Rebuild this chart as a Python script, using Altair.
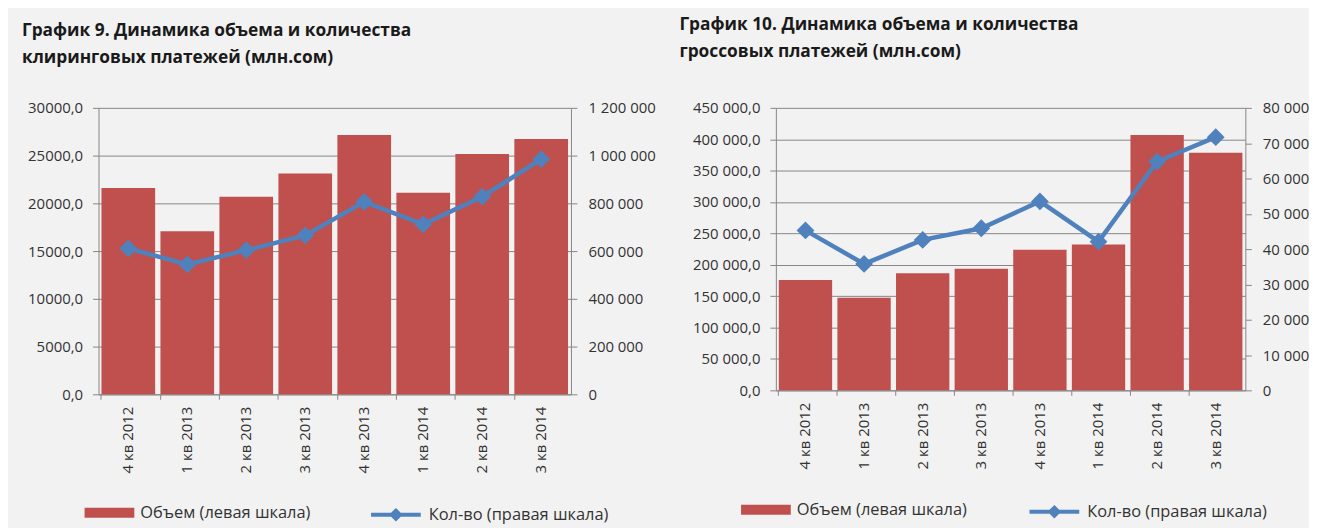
import altair as alt
import pandas as pd

quarters = ["4 кв 2012", "1 кв 2013", "2 кв 2013", "3 кв 2013",
            "4 кв 2013", "1 кв 2014", "2 кв 2014", "3 кв 2014"]

clearing_volume = [21620, 17070, 20680, 23130, 27160, 21100, 25160, 26740]
clearing_count = [611000, 544000, 604000, 666000, 806000, 712000, 828000, 985000]

gross_volume = [175900, 147700, 186400, 193700, 224000, 232300, 406700, 378500]
gross_count = [45300, 35800, 42600, 45900, 53500, 42100, 64800, 71700]

title9 = ["График 9. Динамика объема и количества", "клиринговых платежей (млн.сом)"]
title10 = ["График 10. Динамика объема и количества", "гроссовых платежей (млн.сом)"]

bar_label = "Объем (левая шкала)"
line_label = "Кол-во (правая шкала)"

left_ticks_9 = [0, 5000, 10000, 15000, 20000, 25000, 30000]
right_ticks_9 = [0, 200000, 400000, 600000, 800000, 1000000, 1200000]
left_ticks_10 = [0, 50000, 100000, 150000, 200000, 250000, 300000, 350000, 400000, 450000]
right_ticks_10 = [0, 10000, 20000, 30000, 40000, 50000, 60000, 70000, 80000]

BAR = "#c0504d"
LINE = "#4f81bd"
GRID = "#868686"
FONT = "Open Sans"
LABEL_COLOR = "#333333"

fmt_plain_dec = "replace(format(datum.value, '.1f'), '.', ',')"
fmt_space_dec = "replace(replace(format(datum.value, ',.1f'), regexp(',', 'g'), ' '), '.', ',')"
fmt_space_int = "replace(format(datum.value, ','), regexp(',', 'g'), ' ')"


def panel(vol, cnt, title, lticks, rticks, lfmt, rfmt, width, height,
          lext, rext, title_dx, title_offset, bar_leg_x, line_leg_x, leg_y):
    df = pd.DataFrame({"q": quarters, "vol": vol, "cnt": cnt,
                       "sb": bar_label, "sl": line_label})
    base = alt.Chart(df)
    x = alt.X("q:N", sort=quarters, title=None,
              scale=alt.Scale(paddingInner=0.09, paddingOuter=0.05),
              axis=alt.Axis(labelAngle=-90, bandPosition=0, tickSize=5,
                            labelPadding=7, domainColor=GRID, tickColor=GRID,
                            labelColor=LABEL_COLOR, labelFont=FONT, labelFontSize=15))
    leg_common = dict(orient="none", legendY=leg_y, title=None, labelFontSize=16.5,
                      labelFont=FONT, labelColor=LABEL_COLOR, labelOffset=6,
                      labelLimit=400)
    bars = base.mark_bar(opacity=1).encode(
        x=x,
        y=alt.Y("vol:Q", title=None,
                scale=alt.Scale(domain=[lticks[0], lticks[-1]], nice=False),
                axis=alt.Axis(values=lticks, labelExpr=lfmt, grid=True, orient="left",
                              minExtent=lext, maxExtent=lext, tickSize=6,
                              labelPadding=10)),
        fill=alt.Fill("sb:N", scale=alt.Scale(domain=[bar_label], range=[BAR]),
                      legend=alt.Legend(legendX=bar_leg_x, symbolType="M-1,-0.2H1V0.2H-1Z",
                                        symbolSize=2500, symbolStrokeWidth=0,
                                        **leg_common)),
    )
    yc = alt.Y("cnt:Q", title=None,
               scale=alt.Scale(domain=[rticks[0], rticks[-1]], nice=False),
               axis=alt.Axis(values=rticks, labelExpr=rfmt, grid=False, orient="right",
                             minExtent=rext, maxExtent=rext, tickSize=6, labelPadding=11))
    line = base.mark_line(strokeWidth=4.5).encode(
        x=x, y=yc,
        stroke=alt.Stroke("sl:N", scale=alt.Scale(domain=[line_label], range=[LINE]),
                          legend=alt.Legend(legendX=line_leg_x,
                                            symbolType="M-1,0H1M-0.16,0L0,-0.16L0.16,0L0,0.16Z",
                                            symbolSize=2500, symbolStrokeWidth=4,
                                            **leg_common)),
    )
    pts = base.mark_point(shape="diamond", filled=True, size=320, opacity=1,
                          color=LINE).encode(
        x=x,
        y=alt.Y("cnt:Q", title=None,
                scale=alt.Scale(domain=[rticks[0], rticks[-1]], nice=False), axis=None),
    )
    return alt.layer(bars, line, pts).resolve_scale(y="independent").properties(
        width=width, height=height,
        title=alt.Title(text=title, anchor="start", frame="group", dx=title_dx,
                        offset=title_offset, fontSize=17.4, fontWeight="bold",
                        font=FONT, color="#1a1a1a", lineHeight=27),
    )


p9 = panel(clearing_volume, clearing_count, title9, left_ticks_9, right_ticks_9,
           fmt_plain_dec, fmt_space_int, 475, 288, 91, 80, -77, 35, -14, 272, 382)
p10 = panel(gross_volume, gross_count, title10, left_ticks_10, right_ticks_10,
            fmt_space_dec, fmt_space_int, 472, 284, 100, 62, -97, 41, -35, 253, 379)

chart = alt.hconcat(p9, p10, spacing=21).resolve_scale(
    fill="independent", stroke="independent"
).resolve_legend(fill="independent", stroke="independent").properties(
    padding={"left": 0, "top": 6, "right": 0, "bottom": 0},
    background="#f2f2f2",
).configure_view(stroke=None).configure_axis(
    labelFont=FONT, labelFontSize=15, labelColor=LABEL_COLOR,
    domainColor=GRID, tickColor=GRID, gridColor=GRID, gridOpacity=1,
)

chart.save("out.html", embed_options={"renderer": "svg", "actions": False})
